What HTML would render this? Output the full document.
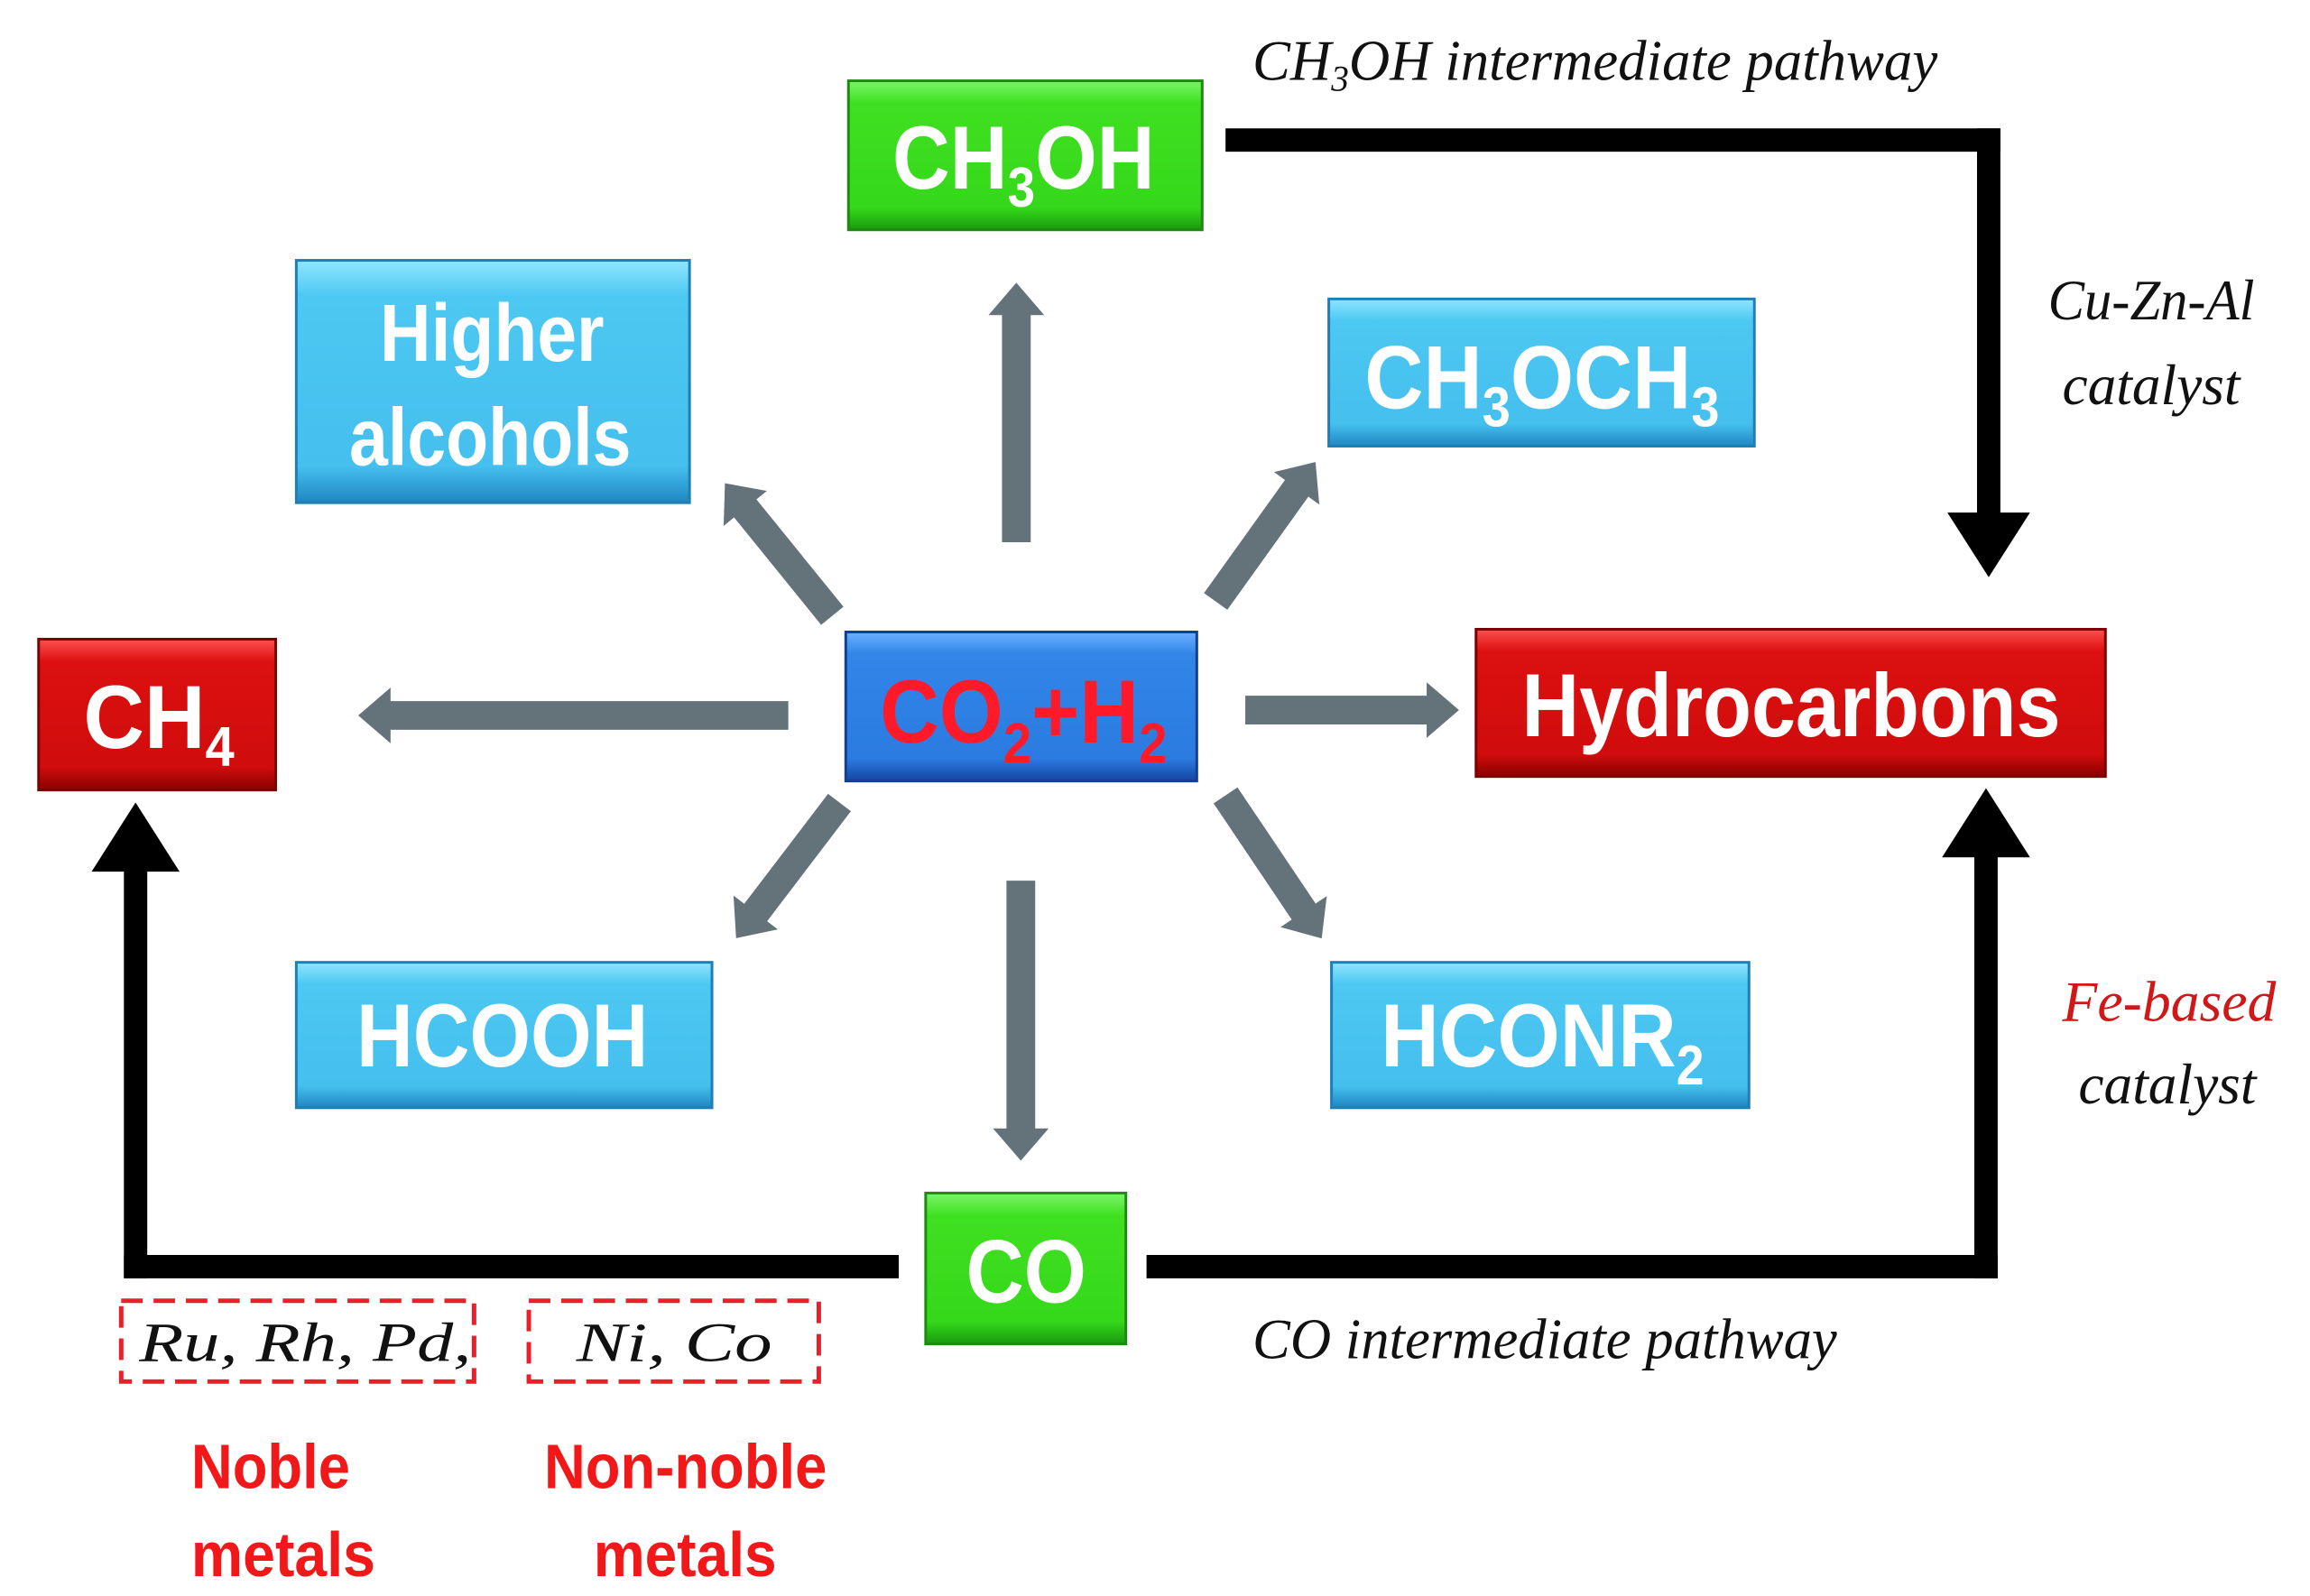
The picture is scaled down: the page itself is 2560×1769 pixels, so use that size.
<!DOCTYPE html>
<html><head><meta charset="utf-8">
<style>html,body{margin:0;padding:0;background:#fff}svg{display:block}</style></head>
<body>
<svg width="2560" height="1769" viewBox="0 0 2560 1769" xmlns="http://www.w3.org/2000/svg">
<defs>
<linearGradient id="gG" x1="0" y1="0" x2="0" y2="1"><stop offset="0" stop-color="#7cf56a"/><stop offset="0.15" stop-color="#3fe020"/><stop offset="0.85" stop-color="#35d81a"/><stop offset="1" stop-color="#1a9a0e"/></linearGradient>
<linearGradient id="gB" x1="0" y1="0" x2="0" y2="1"><stop offset="0" stop-color="#8ee6ff"/><stop offset="0.15" stop-color="#4cc8f2"/><stop offset="0.85" stop-color="#45bfee"/><stop offset="1" stop-color="#1f86c0"/></linearGradient>
<linearGradient id="gD" x1="0" y1="0" x2="0" y2="1"><stop offset="0" stop-color="#6ab0ff"/><stop offset="0.15" stop-color="#3186e8"/><stop offset="0.85" stop-color="#2b7be0"/><stop offset="1" stop-color="#1445a0"/></linearGradient>
<linearGradient id="gR" x1="0" y1="0" x2="0" y2="1"><stop offset="0" stop-color="#ff5050"/><stop offset="0.15" stop-color="#dc1010"/><stop offset="0.85" stop-color="#d00c0c"/><stop offset="1" stop-color="#8a0000"/></linearGradient>
</defs>
<g transform="scale(0.995)">
<!-- black connectors -->
<g fill="#000">
<rect x="1365" y="143" width="863" height="26"/><rect x="2202" y="143" width="26" height="432"/>
<polygon points="2169,571 2261,571 2215,643"/>
<rect x="1277" y="1398" width="948" height="26"/><rect x="2199" y="950" width="26" height="474"/>
<polygon points="2163,955 2261,955 2212,878"/>
<rect x="138" y="1398" width="863" height="26"/><rect x="138" y="965" width="26" height="459"/>
<polygon points="102,971 200,971 151,894"/>
</g>

<!-- gray arrows -->
<g fill="#64727a">
<g transform="translate(1132,604) rotate(-90)"><polygon points="0,-16 253,-16 253,-31 289,0 253,31 253,16 0,16"/></g>
<g transform="translate(878,797) rotate(180)"><polygon points="0,-16 443,-16 443,-31 479,0 443,31 443,16 0,16"/></g>
<g transform="translate(1387,791)"><polygon points="0,-16 202,-16 202,-31 238,0 202,31 202,16 0,16"/></g>
<g transform="translate(1137,981) rotate(90)"><polygon points="0,-16 276,-16 276,-31 312,0 276,31 276,16 0,16"/></g>
<g transform="translate(927,686) rotate(-129)"><polygon points="0,-16 154,-16 154,-31 190,0 154,31 154,16 0,16"/></g>
<g transform="translate(1354,670) rotate(-54.4)"><polygon points="0,-16 155,-16 155,-31 191,0 155,31 155,16 0,16"/></g>
<g transform="translate(935,894) rotate(127.3)"><polygon points="0,-16 154,-16 154,-31 190,0 154,31 154,16 0,16"/></g>
<g transform="translate(1365,886) rotate(56.1)"><polygon points="0,-16 156,-16 156,-31 192,0 156,31 156,16 0,16"/></g>
</g>

<!-- boxes -->
<g stroke-width="3">
<rect x="945" y="90" width="394" height="166" fill="url(#gG)" stroke="#1f8a12"/>
<rect x="330" y="290" width="438" height="270" fill="url(#gB)" stroke="#1f7fb5"/>
<rect x="1480" y="333" width="474" height="164" fill="url(#gB)" stroke="#1f7fb5"/>
<rect x="43" y="712" width="264" height="168" fill="url(#gR)" stroke="#7a0000"/>
<rect x="942" y="704" width="391" height="166" fill="url(#gD)" stroke="#143f90"/>
<rect x="1644" y="701" width="701" height="164" fill="url(#gR)" stroke="#7a0000"/>
<rect x="330" y="1072" width="463" height="162" fill="url(#gB)" stroke="#1f7fb5"/>
<rect x="1483" y="1072" width="465" height="162" fill="url(#gB)" stroke="#1f7fb5"/>
<rect x="1031" y="1329" width="223" height="168" fill="url(#gG)" stroke="#1f8a12"/>
</g>

<!-- box text -->
<g font-family="'Liberation Sans', Arial, sans-serif" font-weight="bold" fill="#fff">
<text x="994" y="210" font-size="100" textLength="292" lengthAdjust="spacingAndGlyphs">CH<tspan font-size="62" dy="20">3</tspan><tspan dy="-20">OH</tspan></text>
<text x="423" y="402" font-size="90" textLength="250" lengthAdjust="spacingAndGlyphs">Higher</text>
<text x="389" y="518" font-size="90" textLength="314" lengthAdjust="spacingAndGlyphs">alcohols</text>
<text x="1520" y="455" font-size="100" textLength="395" lengthAdjust="spacingAndGlyphs">CH<tspan font-size="62" dy="20">3</tspan><tspan dy="-20">OCH</tspan><tspan font-size="62" dy="20">3</tspan></text>
<text x="93" y="833" font-size="100" textLength="168" lengthAdjust="spacingAndGlyphs">CH<tspan font-size="62" dy="20">4</tspan></text>
<text x="980" y="827" font-size="100" fill="#ff1a2a" textLength="320" lengthAdjust="spacingAndGlyphs">CO<tspan font-size="62" dy="22">2</tspan><tspan dy="-22">+H</tspan><tspan font-size="62" dy="22">2</tspan></text>
<text x="1695" y="820" font-size="100" textLength="600" lengthAdjust="spacingAndGlyphs">Hydrocarbons</text>
<text x="397" y="1188" font-size="100" textLength="325" lengthAdjust="spacingAndGlyphs">HCOOH</text>
<text x="1538" y="1188" font-size="100" textLength="360" lengthAdjust="spacingAndGlyphs">HCONR<tspan font-size="62" dy="20">2</tspan></text>
<text x="1076" y="1451" font-size="100" textLength="134" lengthAdjust="spacingAndGlyphs">CO</text>
</g>

<!-- labels -->
<g font-family="'Liberation Serif', 'Times New Roman', serif" font-style="italic" fill="#111">
<text x="1395" y="89" font-size="64" textLength="763" lengthAdjust="spacingAndGlyphs">CH<tspan font-size="40" dy="12">3</tspan><tspan dy="-12">OH intermediate pathway</tspan></text>
<text x="2281" y="356" font-size="64" textLength="230" lengthAdjust="spacingAndGlyphs">Cu-Zn-Al</text>
<text x="2297" y="450" font-size="64" textLength="198" lengthAdjust="spacingAndGlyphs">catalyst</text>
<text x="2297" y="1137" font-size="64" fill="#d01818" textLength="238" lengthAdjust="spacingAndGlyphs">Fe-based</text>
<text x="2315" y="1229" font-size="64" textLength="198" lengthAdjust="spacingAndGlyphs">catalyst</text>
<text x="1395" y="1513" font-size="64" textLength="651" lengthAdjust="spacingAndGlyphs">CO intermediate pathway</text>
<text x="155" y="1516" font-size="62" textLength="370" lengthAdjust="spacingAndGlyphs">Ru, Rh, Pd,</text>
<text x="642" y="1516" font-size="62" textLength="218" lengthAdjust="spacingAndGlyphs">Ni,  Co</text>
</g>

<g fill="none" stroke="#e8202a" stroke-width="5" stroke-dasharray="24,12">
<rect x="135" y="1449" width="393" height="90"/>
<rect x="589" y="1449" width="323" height="90"/>
</g>

<g font-family="'Liberation Sans', Arial, sans-serif" font-weight="bold" fill="#f01818" font-size="70">
<text x="213" y="1658" textLength="177" lengthAdjust="spacingAndGlyphs">Noble</text>
<text x="213" y="1756" textLength="205" lengthAdjust="spacingAndGlyphs">metals</text>
<text x="606" y="1658" textLength="315" lengthAdjust="spacingAndGlyphs">Non-noble</text>
<text x="661" y="1756" textLength="204" lengthAdjust="spacingAndGlyphs">metals</text>
</g>
</g>
</svg>
</body></html>
